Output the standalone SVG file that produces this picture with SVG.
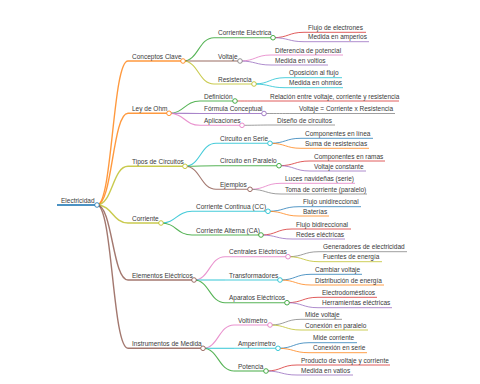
<svg xmlns="http://www.w3.org/2000/svg" width="480" height="384" viewBox="0 0 480 384">
<style>
text{font-family:"Liberation Sans",Arial,sans-serif;font-size:6.5px;fill:#3a3a3a}
path,line{fill:none;stroke-opacity:.8}
circle{fill:#fff;stroke-width:1;stroke-opacity:.85}
.d0{stroke-width:2}.d1{stroke-width:1.4}.d2{stroke-width:1.1}.d3{stroke-width:.95}
.blue{stroke:#1f77b4}.orange{stroke:#ff7f0e}.green{stroke:#2ca02c}.red{stroke:#d62728}.purple{stroke:#9467bd}.brown{stroke:#8c564b}.pink{stroke:#e377c2}.gray{stroke:#7f7f7f}.olive{stroke:#bcbd22}.cyan{stroke:#17becf}
</style>
<g id="connectors">
<path class="d1 orange" d="M97,205 C112.5,205 112.5,61 128,61"/>
<path class="d1 orange" d="M97,205 C112.5,205 112.5,113.3 128,113.3"/>
<path class="d1 olive" d="M97,205 C112.5,205 112.5,166.3 128,166.3"/>
<path class="d1 olive" d="M97,205 C112.5,205 112.5,223 128,223"/>
<path class="d1 brown" d="M97,205 C112.5,205 112.5,280 128,280"/>
<path class="d1 brown" d="M97,205 C112.5,205 112.5,348.3 128,348.3"/>
<path class="d2 green" d="M183,61 C198.5,61 198.5,37.7 214,37.7"/>
<path class="d2 brown" d="M183,61 C198.5,61 198.5,61 214,61"/>
<path class="d2 olive" d="M183,61 C198.5,61 198.5,84 214,84"/>
<path class="d2 green" d="M169,113.3 C184.5,113.3 184.5,101 200,101"/>
<path class="d2 purple" d="M169,113.3 C184.5,113.3 184.5,113.5 200,113.5"/>
<path class="d2 pink" d="M169,113.3 C184.5,113.3 184.5,125.3 200,125.3"/>
<path class="d2 cyan" d="M185,166.3 C200.5,166.3 200.5,143.3 216,143.3"/>
<path class="d2 green" d="M185,166.3 C200.5,166.3 200.5,165.7 216,165.7"/>
<path class="d2 brown" d="M185,166.3 C200.5,166.3 200.5,189.3 216,189.3"/>
<path class="d2 cyan" d="M161,223 C176.5,223 176.5,211.3 192,211.3"/>
<path class="d2 green" d="M161,223 C176.5,223 176.5,235 192,235"/>
<path class="d2 pink" d="M194,280 C209.5,280 209.5,256.7 225,256.7"/>
<path class="d2 cyan" d="M194,280 C209.5,280 209.5,280 225,280"/>
<path class="d2 green" d="M194,280 C209.5,280 209.5,302.7 225,302.7"/>
<path class="d2 pink" d="M203,348.3 C218.5,348.3 218.5,325 234,325"/>
<path class="d2 cyan" d="M203,348.3 C218.5,348.3 218.5,348.3 234,348.3"/>
<path class="d2 green" d="M203,348.3 C218.5,348.3 218.5,371 234,371"/>
<path class="d3 red" d="M273,37.7 C288.5,37.7 288.5,32.3 304,32.3"/>
<path class="d3 purple" d="M273,37.7 C288.5,37.7 288.5,41.7 304,41.7"/>
<path class="d3 pink" d="M240,61 C255.5,61 255.5,55 271,55"/>
<path class="d3 purple" d="M240,61 C255.5,61 255.5,65 271,65"/>
<path class="d3 cyan" d="M254,84 C269.5,84 269.5,77.7 285,77.7"/>
<path class="d3 cyan" d="M254,84 C269.5,84 269.5,87.7 285,87.7"/>
<path class="d3 red" d="M235,101 C250.5,101 250.5,101 266,101"/>
<path class="d3 gray" d="M264,113.5 C279.5,113.5 279.5,113.5 295,113.5"/>
<path class="d3 gray" d="M242,125.3 C257.5,125.3 257.5,125 273,125"/>
<path class="d3 blue" d="M270,143.3 C285.5,143.3 285.5,138.3 301,138.3"/>
<path class="d3 orange" d="M270,143.3 C285.5,143.3 285.5,148.3 301,148.3"/>
<path class="d3 red" d="M279,165.7 C294.5,165.7 294.5,161 310,161"/>
<path class="d3 purple" d="M279,165.7 C294.5,165.7 294.5,171 310,171"/>
<path class="d3 pink" d="M250,189.3 C265.5,189.3 265.5,183.3 281,183.3"/>
<path class="d3 gray" d="M250,189.3 C265.5,189.3 265.5,194 281,194"/>
<path class="d3 blue" d="M268,211.3 C283.5,211.3 283.5,206.7 299,206.7"/>
<path class="d3 orange" d="M268,211.3 C283.5,211.3 283.5,216 299,216"/>
<path class="d3 red" d="M261,235 C276.5,235 276.5,229 292,229"/>
<path class="d3 purple" d="M261,235 C276.5,235 276.5,239 292,239"/>
<path class="d3 gray" d="M288,256.7 C303.5,256.7 303.5,251.7 319,251.7"/>
<path class="d3 olive" d="M288,256.7 C303.5,256.7 303.5,261.7 319,261.7"/>
<path class="d3 blue" d="M280,280 C295.5,280 295.5,274.3 311,274.3"/>
<path class="d3 orange" d="M280,280 C295.5,280 295.5,285 311,285"/>
<path class="d3 red" d="M287,302.7 C302.5,302.7 302.5,297.3 318,297.3"/>
<path class="d3 purple" d="M287,302.7 C302.5,302.7 302.5,307.7 318,307.7"/>
<path class="d3 gray" d="M270,325 C285.5,325 285.5,319.3 301,319.3"/>
<path class="d3 olive" d="M270,325 C285.5,325 285.5,330 301,330"/>
<path class="d3 blue" d="M278,348.3 C293.5,348.3 293.5,342.7 309,342.7"/>
<path class="d3 orange" d="M278,348.3 C293.5,348.3 293.5,352.7 309,352.7"/>
<path class="d3 red" d="M266,371 C281.5,371 281.5,365 297,365"/>
<path class="d3 purple" d="M266,371 C281.5,371 281.5,375 297,375"/>
</g>
<g id="n-root"><line class="d0 blue" x1="57" y1="205" x2="97" y2="205"/><text x="61" y="202.5">Electricidad</text><circle class="blue" cx="97" cy="205" r="2.3"/></g>
<g id="n-conceptos"><line class="d1 orange" x1="128" y1="61" x2="183" y2="61"/><text x="132" y="58.5">Conceptos Clave</text><circle class="orange" cx="183" cy="61" r="2.3"/></g>
<g id="n-ohm"><line class="d1 orange" x1="128" y1="113.3" x2="169" y2="113.3"/><text x="132" y="110.8">Ley de Ohm</text><circle class="orange" cx="169" cy="113.3" r="2.3"/></g>
<g id="n-tipos"><line class="d1 olive" x1="128" y1="166.3" x2="185" y2="166.3"/><text x="132" y="163.8">Tipos de Circuitos</text><circle class="olive" cx="185" cy="166.3" r="2.3"/></g>
<g id="n-corriente"><line class="d1 olive" x1="128" y1="223" x2="161" y2="223"/><text x="132" y="220.5">Corriente</text><circle class="olive" cx="161" cy="223" r="2.3"/></g>
<g id="n-elementos"><line class="d1 brown" x1="128" y1="280" x2="194" y2="280"/><text x="132" y="277.5">Elementos Eléctricos</text><circle class="brown" cx="194" cy="280" r="2.3"/></g>
<g id="n-instrumentos"><line class="d1 brown" x1="128" y1="348.3" x2="203" y2="348.3"/><text x="132" y="345.8">Instrumentos de Medida</text><circle class="brown" cx="203" cy="348.3" r="2.3"/></g>
<g id="n-corr-elec"><line class="d2 green" x1="214" y1="37.7" x2="273" y2="37.7"/><text x="218" y="35.2">Corriente Eléctrica</text><circle class="green" cx="273" cy="37.7" r="2.3"/></g>
<g id="n-voltaje"><line class="d2 brown" x1="214" y1="61" x2="240" y2="61"/><text x="218" y="58.5">Voltaje</text><circle class="gray" cx="240" cy="61" r="2.3"/></g>
<g id="n-resistencia"><line class="d2 olive" x1="214" y1="84" x2="254" y2="84"/><text x="218" y="81.5">Resistencia</text><circle class="olive" cx="254" cy="84" r="2.3"/></g>
<g id="n-definicion"><line class="d2 green" x1="200" y1="101" x2="235" y2="101"/><text x="204" y="98.5">Definición</text><circle class="green" cx="235" cy="101" r="2.3"/></g>
<g id="n-formula"><line class="d2 purple" x1="200" y1="113.5" x2="264" y2="113.5"/><text x="204" y="111">Fórmula Conceptual</text><circle class="purple" cx="264" cy="113.5" r="2.3"/></g>
<g id="n-aplicaciones"><line class="d2 pink" x1="200" y1="125.3" x2="242" y2="125.3"/><text x="204" y="122.8">Aplicaciones</text><circle class="pink" cx="242" cy="125.3" r="2.3"/></g>
<g id="n-serie"><line class="d2 cyan" x1="216" y1="143.3" x2="270" y2="143.3"/><text x="220" y="140.8">Circuito en Serie</text><circle class="cyan" cx="270" cy="143.3" r="2.3"/></g>
<g id="n-paralelo"><line class="d2 green" x1="216" y1="165.7" x2="279" y2="165.7"/><text x="220" y="163.2">Circuito en Paralelo</text><circle class="green" cx="279" cy="165.7" r="2.3"/></g>
<g id="n-ejemplos"><line class="d2 brown" x1="216" y1="189.3" x2="250" y2="189.3"/><text x="220" y="186.8">Ejemplos</text><circle class="brown" cx="250" cy="189.3" r="2.3"/></g>
<g id="n-cc"><line class="d2 cyan" x1="192" y1="211.3" x2="268" y2="211.3"/><text x="196" y="208.8">Corriente Continua (CC)</text><circle class="cyan" cx="268" cy="211.3" r="2.3"/></g>
<g id="n-ca"><line class="d2 green" x1="192" y1="235" x2="261" y2="235"/><text x="196" y="232.5">Corriente Alterna (CA)</text><circle class="green" cx="261" cy="235" r="2.3"/></g>
<g id="n-centrales"><line class="d2 pink" x1="225" y1="256.7" x2="288" y2="256.7"/><text x="229" y="254.2">Centrales Eléctricas</text><circle class="pink" cx="288" cy="256.7" r="2.3"/></g>
<g id="n-transf"><line class="d2 cyan" x1="225" y1="280" x2="280" y2="280"/><text x="229" y="277.5">Transformadores</text><circle class="cyan" cx="280" cy="280" r="2.3"/></g>
<g id="n-aparatos"><line class="d2 green" x1="225" y1="302.7" x2="287" y2="302.7"/><text x="229" y="300.2">Aparatos Eléctricos</text><circle class="green" cx="287" cy="302.7" r="2.3"/></g>
<g id="n-voltimetro"><line class="d2 pink" x1="234" y1="325" x2="270" y2="325"/><text x="238" y="322.5">Voltímetro</text><circle class="pink" cx="270" cy="325" r="2.3"/></g>
<g id="n-amperimetro"><line class="d2 cyan" x1="234" y1="348.3" x2="278" y2="348.3"/><text x="238" y="345.8">Amperímetro</text><circle class="cyan" cx="278" cy="348.3" r="2.3"/></g>
<g id="n-potencia"><line class="d2 green" x1="234" y1="371" x2="266" y2="371"/><text x="238" y="368.5">Potencia</text><circle class="green" cx="266" cy="371" r="2.3"/></g>
<g id="l-flujo-e"><line class="d3 red" x1="304" y1="32.3" x2="366" y2="32.3"/><text x="308" y="29.8">Flujo de electrones</text></g>
<g id="l-amperios"><line class="d3 purple" x1="304" y1="41.7" x2="369" y2="41.7"/><text x="308" y="39.2">Medida en amperios</text></g>
<g id="l-diferencia"><line class="d3 pink" x1="271" y1="55" x2="343" y2="55"/><text x="275" y="52.5">Diferencia de potencial</text></g>
<g id="l-voltios"><line class="d3 purple" x1="271" y1="65" x2="328" y2="65"/><text x="275" y="62.5">Medida en voltios</text></g>
<g id="l-oposicion"><line class="d3 cyan" x1="285" y1="77.7" x2="342" y2="77.7"/><text x="289" y="75.2">Oposición al flujo</text></g>
<g id="l-ohmios"><line class="d3 cyan" x1="285" y1="87.7" x2="343" y2="87.7"/><text x="289" y="85.2">Medida en ohmios</text></g>
<g id="l-relacion"><line class="d3 red" x1="266" y1="101" x2="399" y2="101"/><text x="270" y="98.5">Relación entre voltaje, corriente y resistencia</text></g>
<g id="l-vcr"><line class="d3 gray" x1="295" y1="113.5" x2="395" y2="113.5"/><text x="299" y="111">Voltaje = Corriente x Resistencia</text></g>
<g id="l-diseno"><line class="d3 gray" x1="273" y1="125" x2="335" y2="125"/><text x="277" y="122.5">Diseño de circuitos</text></g>
<g id="l-linea"><line class="d3 blue" x1="301" y1="138.3" x2="373" y2="138.3"/><text x="305" y="135.8">Componentes en línea</text></g>
<g id="l-suma"><line class="d3 orange" x1="301" y1="148.3" x2="369" y2="148.3"/><text x="305" y="145.8">Suma de resistencias</text></g>
<g id="l-ramas"><line class="d3 red" x1="310" y1="161" x2="385" y2="161"/><text x="314" y="158.5">Componentes en ramas</text></g>
<g id="l-vconst"><line class="d3 purple" x1="310" y1="171" x2="366" y2="171"/><text x="314" y="168.5">Voltaje constante</text></g>
<g id="l-luces"><line class="d3 pink" x1="281" y1="183.3" x2="355" y2="183.3"/><text x="285" y="180.8">Luces navideñas (serie)</text></g>
<g id="l-toma"><line class="d3 gray" x1="281" y1="194" x2="367" y2="194"/><text x="285" y="191.5">Toma de corriente (paralelo)</text></g>
<g id="l-uni"><line class="d3 blue" x1="299" y1="206.7" x2="361" y2="206.7"/><text x="303" y="204.2">Flujo unidireccional</text></g>
<g id="l-baterias"><line class="d3 orange" x1="299" y1="216" x2="329" y2="216"/><text x="303" y="213.5">Baterías</text></g>
<g id="l-bi"><line class="d3 red" x1="292" y1="229" x2="351" y2="229"/><text x="296" y="226.5">Flujo bidireccional</text></g>
<g id="l-redes"><line class="d3 purple" x1="292" y1="239" x2="345" y2="239"/><text x="296" y="236.5">Redes eléctricas</text></g>
<g id="l-generadores"><line class="d3 gray" x1="319" y1="251.7" x2="407" y2="251.7"/><text x="323" y="249.2">Generadores de electricidad</text></g>
<g id="l-fuentes"><line class="d3 olive" x1="319" y1="261.7" x2="382" y2="261.7"/><text x="323" y="259.2">Fuentes de energía</text></g>
<g id="l-cambiar"><line class="d3 blue" x1="311" y1="274.3" x2="362" y2="274.3"/><text x="315" y="271.8">Cambiar voltaje</text></g>
<g id="l-distribucion"><line class="d3 orange" x1="311" y1="285" x2="384" y2="285"/><text x="315" y="282.5">Distribución de energía</text></g>
<g id="l-electrodom"><line class="d3 red" x1="318" y1="297.3" x2="377" y2="297.3"/><text x="322" y="294.8">Electrodomésticos</text></g>
<g id="l-herramientas"><line class="d3 purple" x1="318" y1="307.7" x2="392" y2="307.7"/><text x="322" y="305.2">Herramientas eléctricas</text></g>
<g id="l-mide-v"><line class="d3 gray" x1="301" y1="319.3" x2="342" y2="319.3"/><text x="305" y="316.8">Mide voltaje</text></g>
<g id="l-con-par"><line class="d3 olive" x1="301" y1="330" x2="368" y2="330"/><text x="305" y="327.5">Conexión en paralelo</text></g>
<g id="l-mide-c"><line class="d3 blue" x1="309" y1="342.7" x2="357" y2="342.7"/><text x="313" y="340.2">Mide corriente</text></g>
<g id="l-con-ser"><line class="d3 orange" x1="309" y1="352.7" x2="367" y2="352.7"/><text x="313" y="350.2">Conexión en serie</text></g>
<g id="l-producto"><line class="d3 red" x1="297" y1="365" x2="390" y2="365"/><text x="301" y="362.5">Producto de voltaje y corriente</text></g>
<g id="l-vatios"><line class="d3 purple" x1="297" y1="375" x2="353" y2="375"/><text x="301" y="372.5">Medida en vatios</text></g>
</svg>
